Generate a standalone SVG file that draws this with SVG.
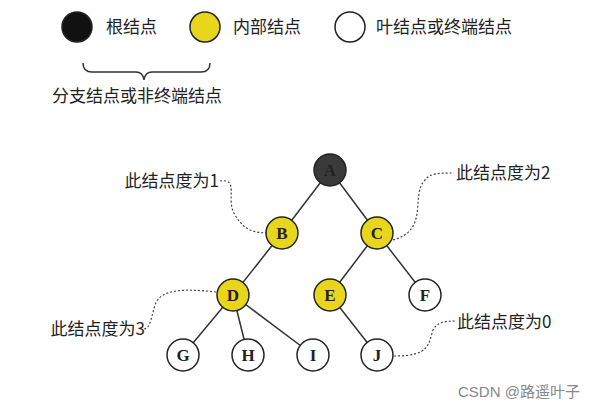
<svg xmlns="http://www.w3.org/2000/svg" width="607" height="409" viewBox="0 0 607 409">
<style>
text{font-family:"Noto Sans CJK SC","Liberation Serif",serif;font-size:17px;fill:#222}
.n{stroke:#222;stroke-width:1.5}
.w{fill:#fff}.y{fill:#e8d61c}.k{fill:#3a3a3a}
.l{font-family:"Liberation Serif",serif;font-size:17px;font-weight:bold;text-anchor:middle}
.e{stroke:#333;stroke-width:1.5;fill:none}
.d{stroke:#444;stroke-width:1.2;fill:none;stroke-dasharray:2 2}
</style>
<rect width="607" height="409" fill="#fff"/>
<g id="legend">
<circle cx="77" cy="27" r="15" class="n" fill="#111"/><text x="106" y="33">根结点</text>
<circle cx="205" cy="27" r="15" class="n y"/><text x="233" y="33">内部结点</text>
<circle cx="350" cy="27" r="15" class="n w"/><text x="376" y="33">叶结点或终端结点</text>
<path class="e" d="M83,63 Q83,72 92,72 L136,72 Q143,72 144,80 Q145,72 152,72 L201,72 Q210,72 210,63"/>
<text x="52" y="102">分支结点或非终端结点</text>
</g>
<g id="connectors">
<path class="e" d="M330,170 L282,233 M330,170 L377,233 M282,233 L233,295 M377,233 L330,295 M377,233 L425,295 M233,295 L183,355 M233,295 L248,355 M233,295 L313,355 M330,295 L377,355"/>
<path class="d" d="M220,181 C240,178 225,200 235,215 C245,232 255,232 266,233"/>
<path class="d" d="M393,240 C430,230 410,195 425,180 C430,173 440,173 454,173"/>
<path class="d" d="M216,292 C180,288 160,290 155,305 C150,322 150,328 144,329"/>
<path class="d" d="M394,356 C430,356 428,345 433,330 C437,322 445,321 456,321"/>
</g>
<g id="nA"><circle cx="330" cy="170" r="16" class="n k"/><text class="l" x="330" y="176">A</text></g>
<g id="nB"><circle cx="282" cy="233" r="16" class="n y"/><text class="l" x="282" y="239">B</text></g>
<g id="nC"><circle cx="377" cy="233" r="16" class="n y"/><text class="l" x="377" y="239">C</text></g>
<g id="nD"><circle cx="233" cy="295" r="16" class="n y"/><text class="l" x="233" y="301">D</text></g>
<g id="nE"><circle cx="330" cy="295" r="16" class="n y"/><text class="l" x="330" y="301">E</text></g>
<g id="nF"><circle cx="425" cy="295" r="16" class="n w"/><text class="l" x="425" y="301">F</text></g>
<g id="nG"><circle cx="183" cy="355" r="16" class="n w"/><text class="l" x="183" y="361">G</text></g>
<g id="nH"><circle cx="248" cy="355" r="16" class="n w"/><text class="l" x="248" y="361">H</text></g>
<g id="nI"><circle cx="313" cy="355" r="16" class="n w"/><text class="l" x="313" y="361">I</text></g>
<g id="nJ"><circle cx="377" cy="355" r="16" class="n w"/><text class="l" x="377" y="361">J</text></g>
<g id="labels">
<text x="219" y="187" text-anchor="end">此结点度为1</text>
<text x="456" y="179">此结点度为2</text>
<text x="145" y="335" text-anchor="end">此结点度为3</text>
<text x="457" y="328">此结点度为0</text>
<text x="458" y="397" style="font-size:15px;fill:#888;font-family:'Liberation Sans','Noto Sans CJK SC',sans-serif">CSDN @路遥叶子</text>
</g>
</svg>
